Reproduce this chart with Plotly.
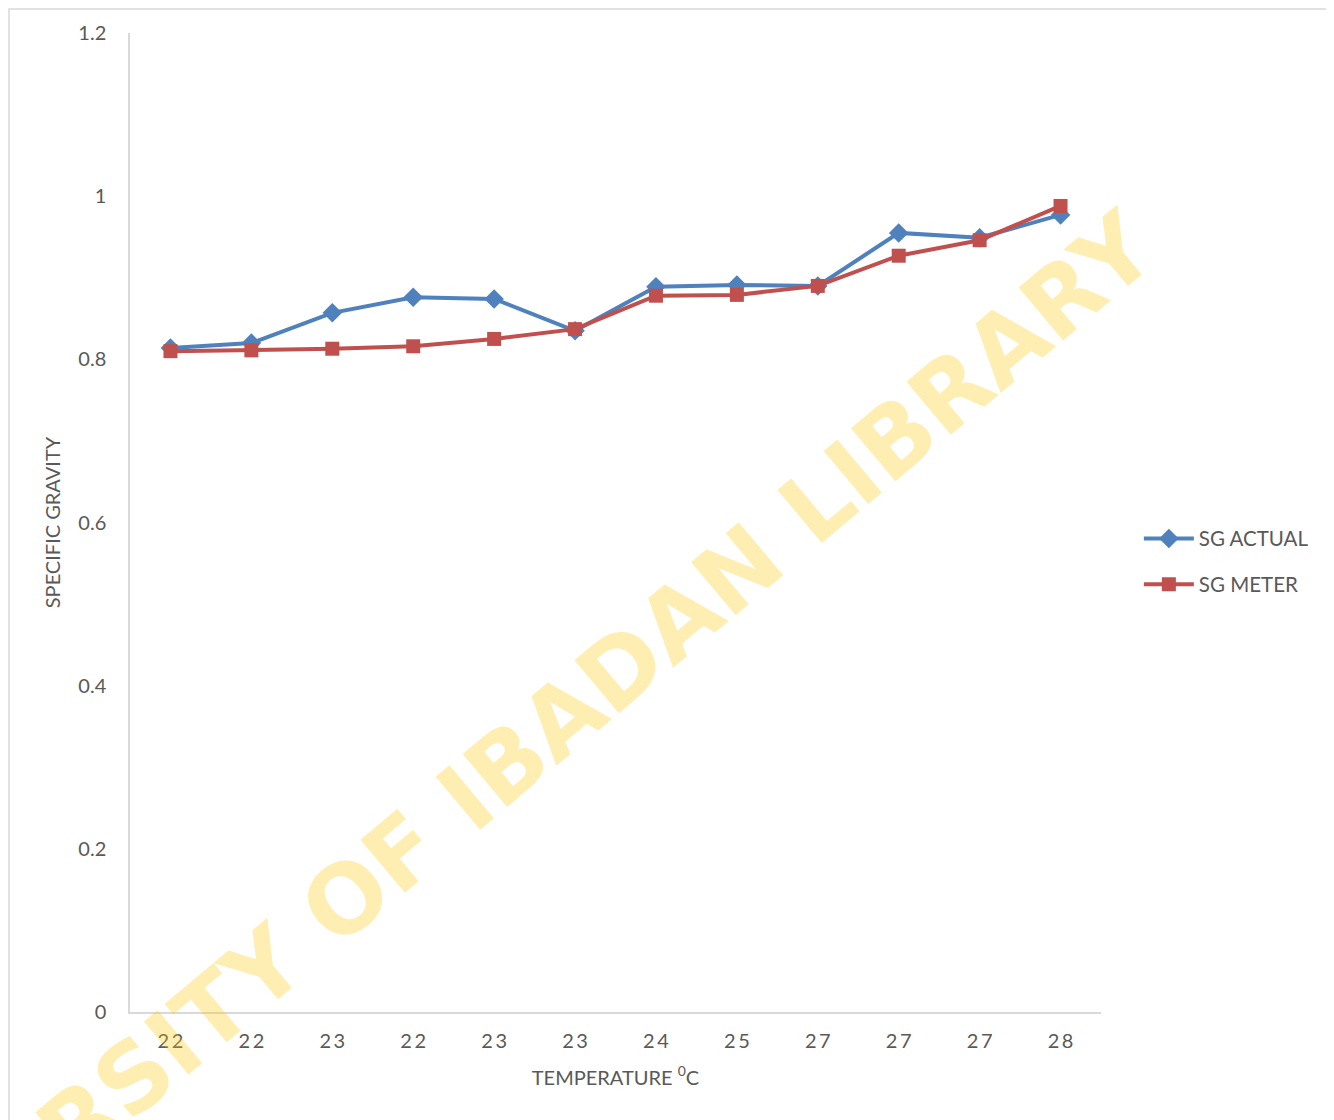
import plotly.graph_objects as go

temps = ["22", "22", "23", "22", "23", "23", "24", "25", "27", "27", "27", "28"]
sg_actual = [0.814, 0.820, 0.857, 0.876, 0.874, 0.835, 0.889, 0.891, 0.890, 0.955, 0.949, 0.977]
sg_meter = [0.810, 0.811, 0.813, 0.816, 0.825, 0.837, 0.878, 0.879, 0.890, 0.927, 0.946, 0.988]
y_ticks = [0, 0.2, 0.4, 0.6, 0.8, 1, 1.2]

xs = list(range(len(temps)))
ticktext = ["\u2009".join(t) for t in temps]

FONT = "Lato, 'Open Sans', sans-serif"
GRAY = "#595959"

fig = go.Figure()
fig.add_trace(go.Scatter(
    x=xs, y=sg_actual, name="SG ACTUAL", mode="lines+markers", legendgroup="a",
    line=dict(color="#4F81BD", width=4),
    marker=dict(symbol="diamond", size=15, color="#4F81BD"),
))
fig.add_trace(go.Scatter(
    x=xs, y=sg_meter, name="SG METER", mode="lines+markers", legendgroup="b",
    line=dict(color="#C0504D", width=4),
    marker=dict(symbol="square", size=14, color="#C0504D"),
))

fig.update_layout(
    width=1326, height=1112,
    margin=dict(l=122, r=233, t=25, b=108),
    paper_bgcolor="white", plot_bgcolor="white",
    font=dict(family=FONT, color=GRAY, size=20),
    showlegend=True,
    legend=dict(x=1.039, y=0.46, xanchor="left", yanchor="middle",
                font=dict(size=20.5, color=GRAY), traceorder="grouped", tracegroupgap=16,
                itemwidth=50),
    xaxis=dict(
        range=[-0.5, len(temps) - 0.5],
        tickmode="array", tickvals=xs, ticktext=ticktext,
        showgrid=False, zeroline=False,
        showline=True, linecolor="#D9D9D9", linewidth=1.5,
        ticks="", ticklabelstandoff=10,
        tickfont=dict(size=20, color=GRAY),
        title=dict(text="TEMPERATURE <sup>0</sup>C", font=dict(size=20, color=GRAY), standoff=20),
    ),
    yaxis=dict(
        range=[0, 1.2],
        tickmode="array", tickvals=y_ticks, ticktext=[f"{v:g}" for v in y_ticks],
        showgrid=False, zeroline=False,
        showline=True, linecolor="#D9D9D9", linewidth=1.5,
        ticks="", ticklabelstandoff=18,
        tickfont=dict(size=20, color=GRAY),
        title=dict(text="SPECIFIC GRAVITY", font=dict(size=20, color=GRAY), standoff=12),
    ),
)

# outer chart border
fig.add_shape(type="rect", xref="paper", yref="paper",
              x0=(9 - 130) / 971, x1=1.4, y0=-0.3, y1=(1012 - 9) / 979,
              line=dict(color="#D9D9D9", width=1.5), fillcolor="rgba(0,0,0,0)", layer="below")

# watermark
fig.add_annotation(
    text="<b>UNIVERSITY OF IBADAN LIBRARY</b>",
    xref="paper", yref="paper",
    x=(470 - 130) / 971, y=(1012 - 795) / 979,
    xanchor="center", yanchor="middle",
    textangle=-40, showarrow=False,
    font=dict(family="'DejaVu Sans', sans-serif", size=95, color="rgba(255,200,0,0.3)"),
)

fig.write_html("out.html")
